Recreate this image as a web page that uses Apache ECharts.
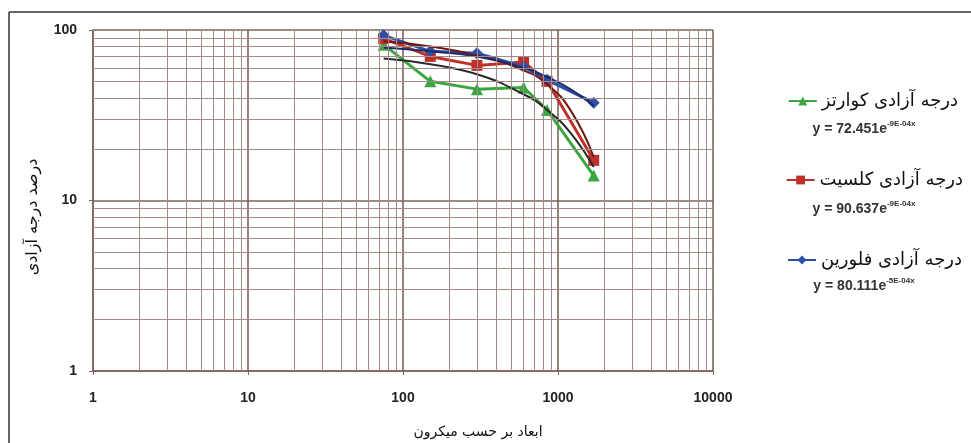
<!DOCTYPE html>
<html>
<head>
<meta charset="utf-8">
<script src="https://cdn.jsdelivr.net/npm/echarts@6/dist/echarts.min.js"></script>
<style>html,body{margin:0;padding:0;background:#fff}#c{width:971px;height:443px}</style>
</head>
<body>
<div id="c"></div>
<script>
// ---- data ----
const sizes = [75, 150, 300, 600, 850, 1700];
const quartz = [82, 50, 45, 46, 34, 14];
const calcite = [89, 70, 62, 65, 50, 17.2];
const fluorine = [93, 75, 73, 61, 51, 37.5];
const trendSizes = [75, 150, 300, 600, 850, 1200, 1700];
const quartzTrend = [68, 63, 55, 42, 34, 25, 15.7];
const calciteTrend = [86, 80, 71, 58, 48, 34, 18];
const fluorineTrend = [79, 75, 70, 60, 53, 45, 36];
const seriesNames = ['درجه آزادی کوارتز', 'درجه آزادی کلسیت', 'درجه آزادی فلورین'];
const equations = [['y = 72.451e', '-9E-04x'], ['y = 90.637e', '-9E-04x'], ['y = 80.111e', '-5E-04x']];
const xTicks = [1, 10, 100, 1000, 10000];
const yTicks = [1, 10, 100];
const xTitle = 'ابعاد بر حسب میکرون';
const yTitle = 'درصد درجه آزادی';

// minor log grid positions (2..9 of each decade)
const minorX = [], minorY = [];
for (let d = 1; d < 10000; d *= 10) for (let k = 2; k <= 9; k++) minorX.push(d * k);
for (let d = 1; d < 100; d *= 10) for (let k = 2; k <= 9; k++) minorY.push(d * k);

const green = '#3aa63f', red = '#c0302a', blue = '#2f4ea6';
const gridMajor = '#7d625c', gridMinor = '#a38c87';
const fa = "'DejaVu Sans', sans-serif";
const num = "'Liberation Sans Narrow', 'Liberation Sans', Arial, sans-serif";

const pair = (xs, ys) => xs.map((x, i) => [x, ys[i]]);

const chart = echarts.init(document.getElementById('c'), null, {renderer: 'canvas'});

function mkLegend(name, top, right) {
  return {
    data: [name], top: top, right: right, orient: 'vertical',
    itemWidth: 28, itemHeight: 11, itemGap: 4,
    textStyle: {fontFamily: fa, fontSize: 18, color: '#111'},
    selectedMode: false
  };
}

const option = {
  animation: false,
  backgroundColor: '#fff',
  grid: {left: 93, right: 258, top: 30, bottom: 72, containLabel: false},
  legend: [
    mkLegend(seriesNames[0], 87, 8),
    mkLegend(seriesNames[1], 166, 3),
    mkLegend(seriesNames[2], 246, 4)
  ],
  xAxis: {
    type: 'log', logBase: 10, min: 1, max: 10000,
    axisLine: {show: true, lineStyle: {color: gridMajor, width: 1.5}},
    axisTick: {show: true, length: 4, lineStyle: {color: gridMajor}},
    axisLabel: {fontFamily: num, fontWeight: 'bold', fontSize: 14, color: '#222', margin: 20,
      formatter: v => xTicks.includes(Math.round(v)) ? String(Math.round(v)) : ''},
    splitLine: {show: true, lineStyle: {color: gridMajor, width: 1.6}}
  },
  yAxis: {
    type: 'log', logBase: 10, min: 1, max: 100,
    axisLine: {show: true, lineStyle: {color: gridMajor, width: 1.5}},
    axisTick: {show: true, length: 4, lineStyle: {color: gridMajor}},
    axisLabel: {fontFamily: num, fontWeight: 'bold', fontSize: 14, color: '#222', margin: 16,
      formatter: v => yTicks.includes(Math.round(v)) ? String(Math.round(v)) : ''},
    splitLine: {show: true, lineStyle: {color: gridMajor, width: 1.6}}
  },
  series: [
    {
      type: 'line', name: 'grid', data: [], silent: true, z: 1,
      markLine: {
        silent: true, symbol: ['none', 'none'], label: {show: false},
        lineStyle: {color: gridMinor, width: 1, type: 'solid'},
        emphasis: {disabled: true},
        data: minorX.map(v => ({xAxis: v})).concat(minorY.map(v => ({yAxis: v})))
      }
    },
    {
      type: 'line', name: seriesNames[0], data: pair(sizes, quartz), z: 3,
      symbol: 'triangle', symbolSize: 12,
      lineStyle: {color: green, width: 3}, itemStyle: {color: green}
    },
    {
      type: 'line', name: seriesNames[1], data: pair(sizes, calcite), z: 3,
      symbol: 'rect', symbolSize: 11,
      lineStyle: {color: red, width: 3}, itemStyle: {color: red}
    },
    {
      type: 'line', name: seriesNames[2], data: pair(sizes, fluorine), z: 3,
      symbol: 'diamond', symbolSize: 12,
      lineStyle: {color: blue, width: 3}, itemStyle: {color: blue}
    },
    {
      type: 'line', name: 'trend-q', data: pair(trendSizes, quartzTrend), z: 4,
      symbol: 'none', smooth: true, lineStyle: {color: '#2a2a2a', width: 2}
    },
    {
      type: 'line', name: 'trend-c', data: pair(trendSizes, calciteTrend), z: 4,
      symbol: 'none', smooth: true, lineStyle: {color: '#6e1a12', width: 2}
    },
    {
      type: 'line', name: 'trend-f', data: pair(trendSizes, fluorineTrend), z: 4,
      symbol: 'none', smooth: true, lineStyle: {color: '#1c2a6a', width: 2}
    }
  ],
  graphic: [
    {type: 'line', shape: {x1: 9, y1: 12, x2: 971, y2: 12}, style: {stroke: '#333', lineWidth: 1.5}},
    {type: 'line', shape: {x1: 9, y1: 12, x2: 9, y2: 443}, style: {stroke: '#333', lineWidth: 1.5}},
    {type: 'text', x: 478, y: 432, style: {text: xTitle, font: "14px 'DejaVu Sans', sans-serif", fill: '#111', align: 'center', verticalAlign: 'middle'}},
    {type: 'text', x: 33, y: 217, rotation: Math.PI / 2, style: {text: yTitle, font: "16px 'DejaVu Sans', sans-serif", fill: '#111', align: 'center', verticalAlign: 'middle'}}
  ].concat(equations.map((e, i) => ({
    type: 'text', x: 864, y: [128, 208, 285][i],
    style: {
      text: '{b|' + e[0] + '}{s|' + e[1] + '}',
      align: 'center', verticalAlign: 'middle',
      rich: {
        b: {font: "bold 14px 'Liberation Sans Narrow', 'Liberation Sans', sans-serif", fill: '#333', lineHeight: 16, verticalAlign: 'bottom'},
        s: {font: "bold 8px 'Liberation Sans Narrow', 'Liberation Sans', sans-serif", fill: '#333', lineHeight: 16, verticalAlign: 'top'}
      }
    }
  })))
};
chart.setOption(option);
</script>
</body>
</html>
